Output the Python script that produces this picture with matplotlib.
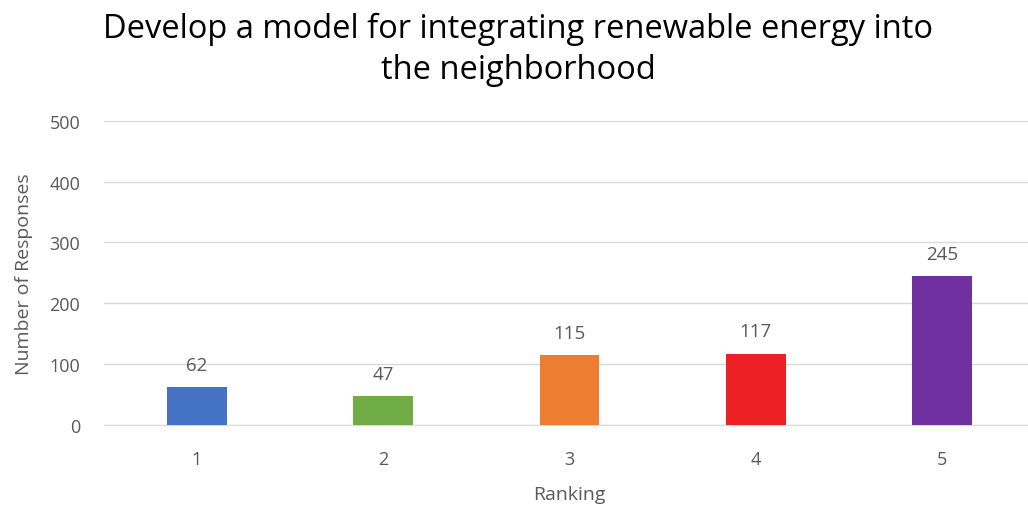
import matplotlib.pyplot as plt

# дані з графіка
rankings = ["1", "2", "3", "4", "5"]
responses = [62, 47, 115, 117, 245]
bar_colors = ["#4472C4", "#70AD47", "#ED7D31", "#ED2024", "#7030A0"]

plt.rcParams['font.family'] = ['Open Sans', 'DejaVu Sans']
grey = "#595959"

fig = plt.figure(figsize=(10.28, 5.10), dpi=100)
ax = fig.add_axes([0.101, 0.165, 0.906, 0.596])

x = list(range(len(rankings)))
bars = ax.bar(x, responses, width=0.32, color=bar_colors, zorder=3)
for b, v in zip(bars, responses):
    ax.text(b.get_x() + b.get_width() / 2, v + 22, str(v), ha='center', va='bottom',
            fontsize=13.5, color=grey)

ax.set_xlim(-0.5, 4.5)
ax.set_ylim(0, 500)
ax.set_yticks(range(0, 501, 100))
ax.set_xticks(x)
ax.set_xticklabels(rankings)
ax.grid(axis='y', color="#D9D9D9", linewidth=1, zorder=0)
for s in ['top', 'right', 'left']:
    ax.spines[s].set_visible(False)
ax.spines['bottom'].set_color("#D9D9D9")
ax.tick_params(axis='x', length=0, labelsize=13, colors=grey, pad=18)
ax.tick_params(axis='y', length=0, labelsize=13, colors=grey, pad=17)
ax.set_xlabel("Ranking", fontsize=14, color=grey, labelpad=12)
ax.set_ylabel("Number of Responses", fontsize=14, color=grey, labelpad=12)

fig.text(0.504, 0.975, "Develop a model for integrating renewable energy into\nthe neighborhood",
         ha='center', va='top', fontsize=23.5, color="#000000", linespacing=1.32)

plt.savefig("out.png", dpi=100)
